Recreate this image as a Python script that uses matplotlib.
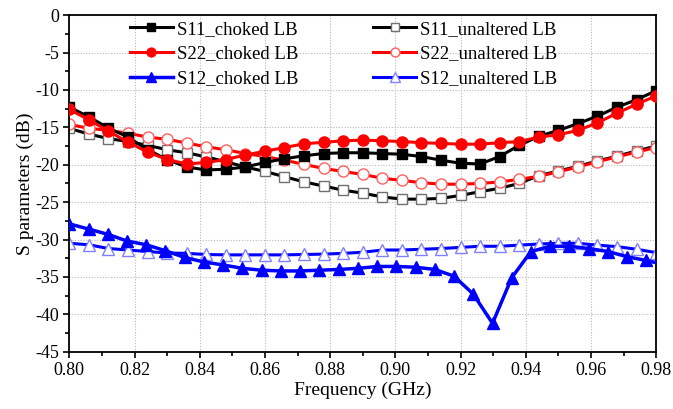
import numpy as np
import matplotlib
matplotlib.use("Agg")
import matplotlib.pyplot as plt
from matplotlib.ticker import MultipleLocator, FormatStrFormatter

plt.rcParams['font.family'] = ['Liberation Serif', 'DejaVu Serif']

# Frequencies (GHz)
freq = np.linspace(0.80, 0.98, 31)
freq_s12_choked = np.append(0.80 + 0.0059 * np.arange(31), 0.98)

s11_choked = [-12.3, -13.6, -15.1, -16.3, -18.0, -19.3, -20.3, -20.7, -20.6, -20.3,
              -19.7, -19.2, -18.8, -18.5, -18.4, -18.4, -18.5, -18.6, -18.9, -19.4,
              -19.8, -19.9, -18.9, -17.4, -16.2, -15.4, -14.5, -13.5, -12.3, -11.3, -10.1]
s22_choked = [-12.6, -14.0, -15.5, -17.0, -18.3, -19.3, -19.9, -19.7, -19.3, -18.7,
              -18.2, -17.7, -17.2, -17.0, -16.8, -16.7, -16.8, -16.9, -17.05, -17.15,
              -17.25, -17.25, -17.05, -16.9, -16.3, -16.0, -15.4, -14.4, -13.1, -11.9, -10.8]
s12_choked = [-27.9, -28.6, -29.3, -30.2, -30.7, -31.5, -32.4, -33.0, -33.4, -33.85,
              -34.1, -34.2, -34.2, -34.1, -34.0, -33.85, -33.6, -33.6, -33.7, -34.0,
              -34.9, -37.3, -41.2, -35.1, -31.6, -30.9, -30.9, -31.2, -31.6, -32.3, -32.8, -33.1]
s11_unaltered = [-15.15, -15.9, -16.5, -16.9, -17.4, -18.0, -18.4, -18.95, -19.6, -20.3,
                 -20.9, -21.6, -22.3, -22.85, -23.4, -23.8, -24.3, -24.6, -24.6, -24.5,
                 -24.1, -23.6, -23.15, -22.5, -21.45, -20.85, -20.2, -19.5, -18.85, -18.15, -17.5]
s22_unaltered = [-14.6, -15.15, -15.4, -15.8, -16.3, -16.6, -17.1, -17.6, -18.0, -18.5,
                 -18.9, -19.4, -19.95, -20.5, -20.9, -21.3, -21.8, -22.1, -22.4, -22.6,
                 -22.6, -22.5, -22.3, -21.95, -21.55, -20.95, -20.3, -19.6, -18.95, -18.3, -17.7]
s12_unaltered = [-30.5, -30.7, -31.2, -31.4, -31.6, -31.8, -31.85, -32.0, -32.05, -32.05,
                 -32.05, -32.05, -32.0, -31.95, -31.85, -31.7, -31.4, -31.4, -31.3, -31.2,
                 -31.05, -30.9, -30.9, -30.75, -30.6, -30.5, -30.5, -30.75, -30.95, -31.3, -31.75]

labels = ["S11_choked LB", "S22_choked LB", "S12_choked LB",
          "S11_unaltered LB", "S22_unaltered LB", "S12_unaltered LB"]

fig = plt.figure(figsize=(6.73, 4.09), dpi=100)
ax = fig.add_axes([0.103, 0.14, 0.872, 0.823])

lw = 2.2
ms = 7.5
h1, = ax.plot(freq, s11_choked, color='black', lw=lw, marker='s', ms=ms,
              mfc='black', mec='black', label=labels[0], zorder=3)
h2, = ax.plot(freq, s22_choked, color='red', lw=lw, marker='o', ms=ms + 0.5,
              mfc='red', mec='red', label=labels[1], zorder=3)
h3, = ax.plot(freq_s12_choked, s12_choked, color='blue', lw=lw + 0.3, marker='^', ms=ms + 1,
              mfc='blue', mec='blue', markevery=list(range(31)), label=labels[2], zorder=3)
h4, = ax.plot(freq, s11_unaltered, color='black', lw=lw, marker='s', ms=ms,
              mfc='white', mec='#707070', label=labels[3], zorder=2)
h5, = ax.plot(freq, s22_unaltered, color='red', lw=lw, marker='o', ms=ms + 0.5,
              mfc='white', mec='#ff6060', label=labels[4], zorder=2)
h6, = ax.plot(freq, s12_unaltered, color='blue', lw=lw, marker='^', ms=ms + 1,
              mfc='white', mec='#8080ff', label=labels[5], zorder=2)

ax.set_xlim(0.80, 0.98)
ax.set_ylim(-45, 0)
ax.xaxis.set_major_locator(MultipleLocator(0.02))
ax.xaxis.set_minor_locator(MultipleLocator(0.01))
ax.yaxis.set_major_locator(MultipleLocator(5))
ax.yaxis.set_minor_locator(MultipleLocator(2.5))
ax.xaxis.set_major_formatter(FormatStrFormatter('%.2f'))
ax.yaxis.set_major_formatter(FormatStrFormatter('%g'))

ax.tick_params(which='major', direction='out', length=4, width=1.2, labelsize=13,
               top=False, right=False)
ax.tick_params(which='minor', direction='out', length=3, width=1.2,
               top=False, right=False)
for s in ax.spines.values():
    s.set_linewidth(1.3)

ax.grid(True, which='major', linestyle=(0, (1, 1.5)), color='#b8b8b8', linewidth=0.8)
ax.set_axisbelow(True)

ax.set_xlabel("Frequency (GHz)", fontsize=14, labelpad=2)
ax.set_ylabel("S parameters (dB)", fontsize=14, labelpad=1)

leg = ax.legend(handles=[h1, h2, h3, h4, h5, h6], ncol=2, loc='upper left',
                bbox_to_anchor=(0.103, 0.983), borderaxespad=0, borderpad=0,
                frameon=False, fontsize=13.5,
                handlelength=2.3, columnspacing=4.0, handletextpad=0.2,
                labelspacing=0.4, markerscale=0.8)

fig.savefig("out.png", dpi=100)
